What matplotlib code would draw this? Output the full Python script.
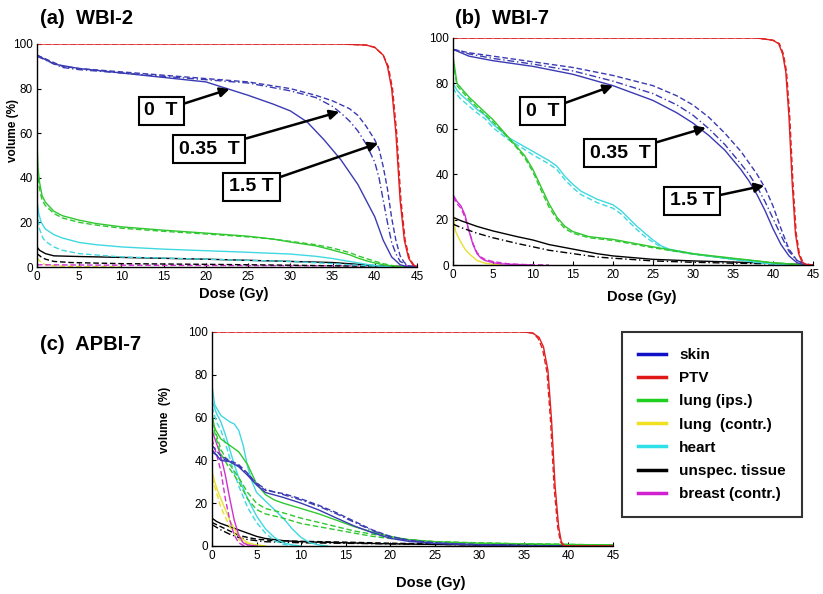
import matplotlib
matplotlib.use("Agg")
import matplotlib.pyplot as plt
from matplotlib.lines import Line2D

plt.rcParams['font.family'] = ['Liberation Sans', 'DejaVu Sans']

# ---------------- colours / labels ----------------
structures = ["skin", "PTV", "lung (ips.)", "lung  (contr.)", "heart", "unspec. tissue", "breast (contr.)"]
legend_colors = ["#1010c8", "#e01818", "#20d020", "#f0e020", "#30e0e8", "#000000", "#d020d0"]
C_SKIN, C_PTV, C_LUNG, C_LUNGC, C_HEART, C_TISS, C_BREAST = "#3a3ab4", "#e02020", "#30c830", "#e8e030", "#40d8e0", "#000000", "#d030d0"

x_ticks = [0, 5, 10, 15, 20, 25, 30, 35, 40, 45]
y_ticks = [0, 20, 40, 60, 80, 100]

# ---------------- panel (a) WBI-2 ----------------
a_ptv_x = [0, 36, 39, 40, 41, 41.5, 42, 42.5, 43, 43.5, 44, 44.5, 45]
a_ptv_y = [100, 100, 99.5, 98.5, 95, 90, 80, 60, 30, 12, 4, 1, 0]
a_ptv2_x = [0, 36, 39, 40, 41, 41.6, 42.1, 42.6, 43.1, 43.6, 44.1, 44.6, 45]
a_ptv2_y = [100, 100, 99.5, 98.5, 95, 90, 80, 60, 30, 12, 4, 1, 0]

a_skin0_x = [0, 2, 5, 10, 15, 20, 22.5, 25, 28, 30, 32, 34, 36, 38, 40, 41, 42, 43, 44, 45]
a_skin0_y = [95, 91, 89, 87, 85, 83, 80, 77, 73, 70, 65, 57, 48, 37, 22.5, 12, 4.5, 1, 0, 0]
a_skin35_x = [0, 3, 5, 10, 15, 20, 25, 30, 33, 35, 36, 37, 38, 39, 40, 40.5, 41, 41.5, 42, 42.5, 43, 44, 45]
a_skin35_y = [94.5, 89.5, 88.5, 87, 85.5, 84, 82.5, 79, 76, 72, 69, 65.5, 61, 55, 47, 40, 30, 20, 11, 6, 2.5, 0.5, 0]
a_skin15_x = [0, 3, 5, 10, 15, 20, 25, 30, 33, 35, 37, 38, 39, 40, 40.5, 41, 41.5, 42, 42.5, 43, 43.5, 44, 45]
a_skin15_y = [95, 90, 89, 87.5, 86, 84.5, 83, 80, 77, 74.5, 71, 68, 63, 57, 53, 45, 35, 22, 12, 5, 2, 0.5, 0]

a_lung0_x = [0, 0.1, 0.3, 0.6, 1, 2, 3, 5, 7, 10, 15, 20, 25, 28, 30, 33, 35, 37, 38, 39, 40, 41, 42, 43, 44]
a_lung0_y = [57, 45, 38, 32, 29, 25, 23, 21, 19.5, 18, 16.5, 15.2, 13.8, 12.5, 11.2, 9.5, 7.6, 5.5, 4, 2.8, 1.8, 1, 0.5, 0.2, 0]
a_lung1_x = [0, 0.1, 0.3, 0.6, 1, 2, 3, 5, 7, 10, 15, 20, 25, 28, 30, 33, 35, 37, 38, 39, 40, 41, 42, 43, 44]
a_lung1_y = [55, 42, 35, 30, 27.5, 24, 22, 20, 18.8, 17.4, 16, 14.8, 13.5, 12.5, 11.5, 10, 8.5, 6.5, 5, 3.8, 2.6, 1.5, 0.7, 0.3, 0]

a_heart0_x = [0, 0.2, 0.5, 1, 2, 3, 5, 7, 10, 15, 20, 25, 30, 33, 35, 37, 39, 41, 42]
a_heart0_y = [30, 24, 20, 17, 14.5, 13, 11, 10, 9, 8, 7.3, 6.6, 5.8, 4.8, 3.8, 2.5, 1.2, 0.3, 0]
a_heart1_x = [0, 0.3, 0.7, 1, 2, 3, 5, 10, 20, 30, 35, 38, 40, 42]
a_heart1_y = [25, 17, 13, 11.5, 9, 7.5, 6, 4.5, 3.5, 2.5, 1.5, 0.8, 0.3, 0]

a_tiss0_x = [0, 0.3, 1, 2, 5, 10, 20, 30, 35, 38, 40, 42, 44]
a_tiss0_y = [9, 7.5, 6, 5, 4.7, 4.3, 3.5, 2.5, 2, 1.2, 0.6, 0.2, 0]
a_tiss1_x = [0, 0.5, 1, 2, 4, 10, 20, 30, 40, 44]
a_tiss1_y = [6, 4.5, 3.5, 2.5, 2, 1.5, 1.2, 0.8, 0.3, 0]

a_breast_x = [0, 10, 30, 45]
a_breast_y = [1, 0.8, 0.6, 0.5]
a_lungc_x = [0, 0.5, 1, 2, 5, 10]
a_lungc_y = [4, 2, 1, 0.5, 0.2, 0]

# ---------------- panel (b) WBI-7 ----------------
b_ptv_x = [0, 38, 40, 40.7, 41.2, 41.6, 42, 42.4, 42.8, 43.2, 43.6, 44, 45]
b_ptv_y = [100, 100, 99, 97.5, 93, 85, 65, 36, 14, 5, 1.5, 0.3, 0]
b_ptv2_x = [0, 38, 40, 40.8, 41.3, 41.7, 42.1, 42.5, 42.9, 43.3, 43.7, 44.1, 45]
b_ptv2_y = [100, 100, 99, 97.5, 93, 85, 65, 36, 14, 5, 1.5, 0.3, 0]

b_skin0_x = [0, 2, 5, 10, 15, 20, 25, 28, 30, 32, 34, 36, 37, 38, 39, 40, 41, 42, 43, 44]
b_skin0_y = [95, 92, 90, 87.5, 84, 79, 72.5, 67, 62.5, 57, 50.5, 42, 37, 31, 24, 16, 9, 4, 1, 0]
b_skin35_x = [0, 2, 5, 10, 15, 20, 25, 28, 30, 32, 34, 36, 37, 38, 39, 40, 41, 42, 43, 44]
b_skin35_y = [95, 93, 91, 88.5, 85.5, 81, 75.5, 70.5, 66, 60, 53, 44.5, 40, 34.5, 28, 20.5, 13, 6, 2, 0.3]
b_skin15_x = [0, 2, 5, 10, 15, 20, 25, 28, 30, 32, 34, 36, 37, 38, 39, 40, 41, 42, 43, 44, 45]
b_skin15_y = [95, 93.5, 92, 89.5, 87, 83.5, 79, 74.5, 70.5, 65, 58, 50, 45, 40, 34, 26, 16, 7, 2, 0.5, 0]

b_lung0_x = [0, 0.5, 1, 2, 3, 5, 7, 8, 9, 10, 11, 12, 13, 14, 15, 17, 20, 25, 30, 35, 40, 42, 44]
b_lung0_y = [92, 80, 78, 74, 70.6, 64, 56, 52, 48, 42, 34.5, 27, 21, 17, 14.7, 12.5, 11.3, 8, 5, 3, 1, 0.5, 0]
b_lung1_x = [0, 0.5, 1, 2, 3, 5, 7, 8, 9, 10, 11, 12, 13, 14, 15, 17, 20, 25, 30, 35, 40, 42, 44]
b_lung1_y = [90, 79, 77, 73, 69.5, 63, 55.5, 51.5, 47, 41, 33, 25.5, 20, 16, 14, 12, 10.8, 7.6, 4.8, 2.8, 1, 0.5, 0]

b_heart0_x = [0, 0.5, 1, 2, 3, 4, 5, 7, 8, 10, 12, 13, 14, 15, 16, 18, 20, 21, 22, 23, 24, 25, 26, 27, 30, 35, 38, 40, 42]
b_heart0_y = [80, 77, 75, 72, 68.5, 66, 62, 56, 54, 50, 46, 43.5, 39, 35.5, 32.5, 29, 26.5, 24, 20.5, 17, 14, 11, 8.5, 7, 5, 2.5, 1.2, 0.5, 0]
b_heart1_x = [0, 0.5, 1, 2, 3, 4, 5, 7, 8, 10, 12, 13, 14, 15, 16, 18, 20, 21, 22, 23, 24, 25, 26, 27, 30, 35, 38, 40, 42]
b_heart1_y = [78, 75, 73, 70, 67, 64.5, 60.5, 55, 53, 48.5, 44.5, 42, 37.5, 34, 31, 27.5, 25, 22.5, 19, 15.5, 12.5, 10, 8, 6.5, 4.8, 2.4, 1.1, 0.5, 0]

b_tiss0_x = [0, 1, 3, 5, 8, 10, 12, 15, 18, 20, 25, 30, 35, 40, 43, 45]
b_tiss0_y = [21, 19.5, 17, 15, 12.5, 11, 9, 7, 5, 4, 2.5, 1.8, 1.3, 0.8, 0.3, 0]
b_tiss1_x = [0, 1, 3, 5, 8, 10, 12, 15, 18, 20, 25, 30, 35, 40, 45]
b_tiss1_y = [18, 16.5, 14, 12, 9.5, 8, 6.5, 5, 3.5, 3, 1.8, 1.2, 0.8, 0.5, 0]

b_breast0_x = [0, 0.5, 1, 1.5, 2, 2.5, 3, 3.5, 4, 5, 6, 8, 10]
b_breast0_y = [31, 28, 26, 22, 15, 9, 5, 3, 2, 1, 0.5, 0.2, 0]
b_breast1_x = [0, 0.5, 1, 1.5, 2, 2.5, 3, 3.5, 4, 5, 7, 9, 12]
b_breast1_y = [30, 27, 25, 21, 15, 9.5, 5.5, 3.5, 2.5, 1.5, 0.5, 0.2, 0]

b_lungc_x = [0, 0.3, 0.7, 1, 1.5, 2, 2.5, 3, 4, 5, 6]
b_lungc_y = [23, 15, 12, 10, 7, 5, 3.5, 2, 0.8, 0.3, 0]

# ---------------- panel (c) APBI-7 ----------------
c_ptv_x = [0, 35, 36, 36.7, 37.2, 37.7, 38.1, 38.5, 38.9, 39.2, 39.5, 40, 45]
c_ptv_y = [100, 100, 99.5, 97.5, 93, 82, 59, 28, 9, 2, 0.3, 0, 0]
c_ptv2_x = [0, 35, 36, 36.6, 37.1, 37.6, 38.0, 38.4, 38.8, 39.1, 39.4, 40, 45]
c_ptv2_y = [100, 100, 99.5, 97, 92, 81, 58, 27, 8.5, 2, 0.3, 0, 0]

c_skin0_x = [0, 1, 2, 3, 4, 5, 6, 8, 10, 12, 14, 16, 18, 20, 22, 25, 30, 35, 40]
c_skin0_y = [45, 40, 39.4, 37, 33, 28.5, 25, 22.7, 20, 16.8, 13, 9.3, 6.2, 3.6, 2.2, 1.2, 0.5, 0.2, 0]
c_skin1_x = [0, 1, 2, 3, 4, 5, 6, 8, 10, 12, 14, 16, 18, 20, 22, 25, 30, 35, 40]
c_skin1_y = [47, 42, 40, 38, 34, 29, 26, 24.5, 22, 19, 15.5, 11.5, 7.5, 4.5, 2.8, 1.5, 0.6, 0.2, 0]
c_skin2_x = [0, 1, 2, 3, 4, 5, 6, 8, 10, 12, 14, 16, 18, 20, 22, 25, 30, 35, 40]
c_skin2_y = [44, 41, 39.5, 37.5, 33.5, 29.5, 26.5, 24, 21.5, 18.5, 15, 11, 7.2, 4.3, 2.6, 1.4, 0.6, 0.2, 0]

c_lung0_x = [0, 0.3, 1, 2, 3, 4, 5, 6, 7, 8, 10, 12, 14, 16, 18, 20, 22, 25, 30, 35, 40, 45]
c_lung0_y = [62, 55, 50, 47, 44, 38, 29, 24, 21.5, 20, 17.5, 15, 12, 9, 6.5, 4.5, 3, 2, 1.3, 1, 0.7, 0.5]
c_lung1_x = [0, 0.5, 1, 2, 3, 4, 5, 6, 8, 10, 12, 14, 16, 18, 20, 22, 25, 30, 35, 40, 45]
c_lung1_y = [60, 52, 45, 38, 32, 25, 20, 17.5, 15.5, 13, 11, 9, 7, 5.5, 4, 3, 2, 1.5, 1, 0.7, 0.5]
c_lung2_x = [0, 0.5, 1, 2, 3, 4, 5, 6, 8, 10, 12, 14, 16, 18, 20, 25, 30, 40, 45]
c_lung2_y = [58, 50, 43, 36, 30, 22, 17, 15, 13, 10.5, 9, 7.5, 6, 4.5, 3.5, 2, 1.3, 0.7, 0.5]

c_heart0_x = [0, 0.3, 1, 2, 2.5, 3, 3.5, 4, 4.5, 5, 6, 7, 8, 9, 10, 11, 12, 13]
c_heart0_y = [75, 66, 61, 58, 57, 54, 47, 37, 30, 25, 21, 17, 13, 8, 4, 1.5, 0.5, 0]
c_heart1_x = [0, 0.5, 1, 1.5, 2, 2.5, 3, 3.5, 4, 5, 6, 7, 8, 9, 10]
c_heart1_y = [68, 62, 58, 52, 45, 38, 32, 27, 22, 14, 8, 4, 1.5, 0.5, 0]
c_heart2_x = [0, 0.5, 1, 1.5, 2, 2.5, 3, 3.5, 4, 5, 6, 7, 8, 9]
c_heart2_y = [65, 58, 54, 48, 41, 34, 28, 23, 18, 11, 6, 2.5, 0.8, 0]

c_breast0_x = [0, 0.5, 1, 1.5, 2, 2.5, 3, 3.5, 4, 5]
c_breast0_y = [54, 48, 42, 33, 22, 12, 5, 1.5, 0.5, 0]
c_breast1_x = [0, 0.5, 1, 1.5, 2, 2.5, 3, 3.5, 4]
c_breast1_y = [50, 43, 35, 22, 12, 5, 1.5, 0.3, 0]

c_lungc0_x = [0, 0.3, 0.7, 1, 1.5, 2, 2.5, 3, 3.5, 4, 5, 6]
c_lungc0_y = [35, 30, 25, 22, 17, 12, 8, 5, 3, 1.5, 0.5, 0]
c_lungc1_x = [0, 1, 2, 3, 4, 5]
c_lungc1_y = [32, 18, 9, 3, 1, 0]

c_tiss0_x = [0, 0.5, 1, 2, 3, 4, 5, 6, 8, 10, 15, 20, 30, 40, 45]
c_tiss0_y = [13, 11.5, 10.5, 9, 7.5, 6, 4.5, 3.5, 2.5, 2, 1.5, 1, 0.5, 0.3, 0.2]
c_tiss1_x = [0, 1, 2, 3, 4, 5, 7, 10, 15, 20, 25, 30, 40, 45]
c_tiss1_y = [11, 9, 7, 5, 4, 3.2, 2.5, 2.2, 1.8, 1.3, 1, 0.7, 0.5, 0.3]
c_tiss2_x = [0, 1, 2, 3, 4, 6, 10, 20, 30]
c_tiss2_y = [10, 7.5, 5.5, 4, 3, 2, 1.5, 1, 0.5]

SOLID, DASH, DDOT = '-', (0, (4, 2)), (0, (5, 2, 1, 2))

panel_a = [
    (C_LUNGC, a_lungc_x, a_lungc_y, DASH), (C_BREAST, a_breast_x, a_breast_y, DASH),
    (C_TISS, a_tiss0_x, a_tiss0_y, SOLID), (C_TISS, a_tiss1_x, a_tiss1_y, DASH),
    (C_HEART, a_heart0_x, a_heart0_y, SOLID), (C_HEART, a_heart1_x, a_heart1_y, DASH),
    (C_LUNG, a_lung0_x, a_lung0_y, SOLID), (C_LUNG, a_lung1_x, a_lung1_y, DASH),
    (C_SKIN, a_skin0_x, a_skin0_y, SOLID), (C_SKIN, a_skin35_x, a_skin35_y, DDOT),
    (C_SKIN, a_skin15_x, a_skin15_y, DASH),
    (C_PTV, a_ptv_x, a_ptv_y, SOLID), (C_PTV, a_ptv2_x, a_ptv2_y, DASH),
]
panel_b = [
    (C_LUNGC, b_lungc_x, b_lungc_y, SOLID),
    (C_BREAST, b_breast0_x, b_breast0_y, SOLID), (C_BREAST, b_breast1_x, b_breast1_y, DASH),
    (C_TISS, b_tiss0_x, b_tiss0_y, SOLID), (C_TISS, b_tiss1_x, b_tiss1_y, DDOT),
    (C_HEART, b_heart0_x, b_heart0_y, SOLID), (C_HEART, b_heart1_x, b_heart1_y, DASH),
    (C_LUNG, b_lung0_x, b_lung0_y, SOLID), (C_LUNG, b_lung1_x, b_lung1_y, DASH),
    (C_SKIN, b_skin0_x, b_skin0_y, SOLID), (C_SKIN, b_skin35_x, b_skin35_y, DDOT),
    (C_SKIN, b_skin15_x, b_skin15_y, DASH),
    (C_PTV, b_ptv_x, b_ptv_y, SOLID), (C_PTV, b_ptv2_x, b_ptv2_y, DASH),
]
panel_c = [
    (C_TISS, c_tiss0_x, c_tiss0_y, SOLID), (C_TISS, c_tiss1_x, c_tiss1_y, DASH), (C_TISS, c_tiss2_x, c_tiss2_y, DDOT),
    (C_LUNGC, c_lungc0_x, c_lungc0_y, SOLID), (C_LUNGC, c_lungc1_x, c_lungc1_y, DASH),
    (C_BREAST, c_breast0_x, c_breast0_y, SOLID), (C_BREAST, c_breast1_x, c_breast1_y, DASH),
    (C_HEART, c_heart0_x, c_heart0_y, SOLID), (C_HEART, c_heart1_x, c_heart1_y, SOLID), (C_HEART, c_heart2_x, c_heart2_y, DASH),
    (C_LUNG, c_lung0_x, c_lung0_y, SOLID), (C_LUNG, c_lung1_x, c_lung1_y, DASH), (C_LUNG, c_lung2_x, c_lung2_y, DASH),
    (C_SKIN, c_skin0_x, c_skin0_y, SOLID), (C_SKIN, c_skin1_x, c_skin1_y, DASH), (C_SKIN, c_skin2_x, c_skin2_y, DDOT),
    (C_PTV, c_ptv_x, c_ptv_y, SOLID), (C_PTV, c_ptv2_x, c_ptv2_y, DASH),
]

# annotation labels: (text, text position, arrow target)
field_labels = ["0  T", "0.35  T", "1.5 T"]
a_label_xy = [(14.7, 70), (20.4, 52.9), (25.4, 35.9)]
a_arrow_xy = [(22.8, 79.8), (35.8, 69.6), (40.4, 55.5)]
b_label_xy = [(11.2, 67.8), (20.9, 49.3), (29.9, 28.2)]
b_arrow_xy = [(20.0, 79.0), (31.6, 60.5), (38.9, 35.0)]

# ---------------- figure ----------------
fig = plt.figure(figsize=(8.23, 5.94), dpi=100)
ax_a = fig.add_axes([37 / 823, 1 - 267 / 594, 380 / 823, 223 / 594])
ax_b = fig.add_axes([453 / 823, 1 - 265 / 594, 360 / 823, 227 / 594])
ax_c = fig.add_axes([212 / 823, 1 - 546 / 594, 401 / 823, 214 / 594])


def style(ax):
    ax.set_xlim(0, 45)
    ax.set_ylim(0, 100)
    ax.set_xticks(x_ticks)
    ax.set_yticks(y_ticks)
    ax.spines['top'].set_visible(False)
    ax.spines['right'].set_visible(False)
    for s in ('left', 'bottom'):
        ax.spines[s].set_linewidth(1.0)
    ax.tick_params(direction='in', length=3, width=0.8, labelsize=8.5, pad=3)


for ax, curves in ((ax_a, panel_a), (ax_b, panel_b), (ax_c, panel_c)):
    for col, xs, ys, ls in curves:
        ax.plot(xs, ys, color=col, linestyle=ls, linewidth=1.0)
    style(ax)


def annotate(ax, label_xy, arrow_xy):
    for txt, (tx, ty), (hx, hy) in zip(field_labels, label_xy, arrow_xy):
        ax.annotate(txt, xy=(hx, hy), xytext=(tx, ty), ha='center', va='center',
                    fontsize=14, fontweight='bold',
                    bbox=dict(boxstyle='square,pad=0.3', fc='white', ec='black', lw=1.5),
                    arrowprops=dict(arrowstyle='-|>', color='black', lw=1.8, mutation_scale=14,
                                    shrinkA=0, shrinkB=0))


annotate(ax_a, a_label_xy, a_arrow_xy)
annotate(ax_b, b_label_xy, b_arrow_xy)

# titles
fig.text(40 / 823, 1 - 18 / 594, "(a)  WBI-2", fontsize=14.5, fontweight='bold', va='center', ha='left')
fig.text(455 / 823, 1 - 18 / 594, "(b)  WBI-7", fontsize=14.5, fontweight='bold', va='center', ha='left')
fig.text(40 / 823, 1 - 345 / 594, "(c)  APBI-7", fontsize=14.5, fontweight='bold', va='center', ha='left')

# axis labels
fig.text(234 / 823, 1 - 294 / 594, "Dose (Gy)", fontsize=10.5, fontweight='bold', ha='center', va='center')
fig.text(642 / 823, 1 - 297 / 594, "Dose (Gy)", fontsize=10.5, fontweight='bold', ha='center', va='center')
fig.text(431 / 823, 1 - 583 / 594, "Dose (Gy)", fontsize=10.5, fontweight='bold', ha='center', va='center')
fig.text(13 / 823, 1 - 130 / 594, "volume (%)", fontsize=8.5, fontweight='bold', rotation=90, ha='center', va='center')
fig.text(165 / 823, 1 - 420 / 594, "volume  (%)", fontsize=8.5, fontweight='bold', rotation=90, ha='center', va='center')

# legend
handles = [Line2D([0], [0], color=c, lw=2.5) for c in legend_colors]
leg = fig.legend(handles, structures, loc='upper left', bbox_to_anchor=(622 / 823, 1 - 332 / 594),
                 frameon=True, fancybox=False, prop=dict(weight='bold', size=11),
                 handlelength=1.8, handletextpad=0.9, labelspacing=0.6, borderpad=1.05,
                 borderaxespad=0)
leg.get_frame().set_edgecolor('black')
leg.get_frame().set_linewidth(1.5)

fig.savefig("out.png", dpi=100)
